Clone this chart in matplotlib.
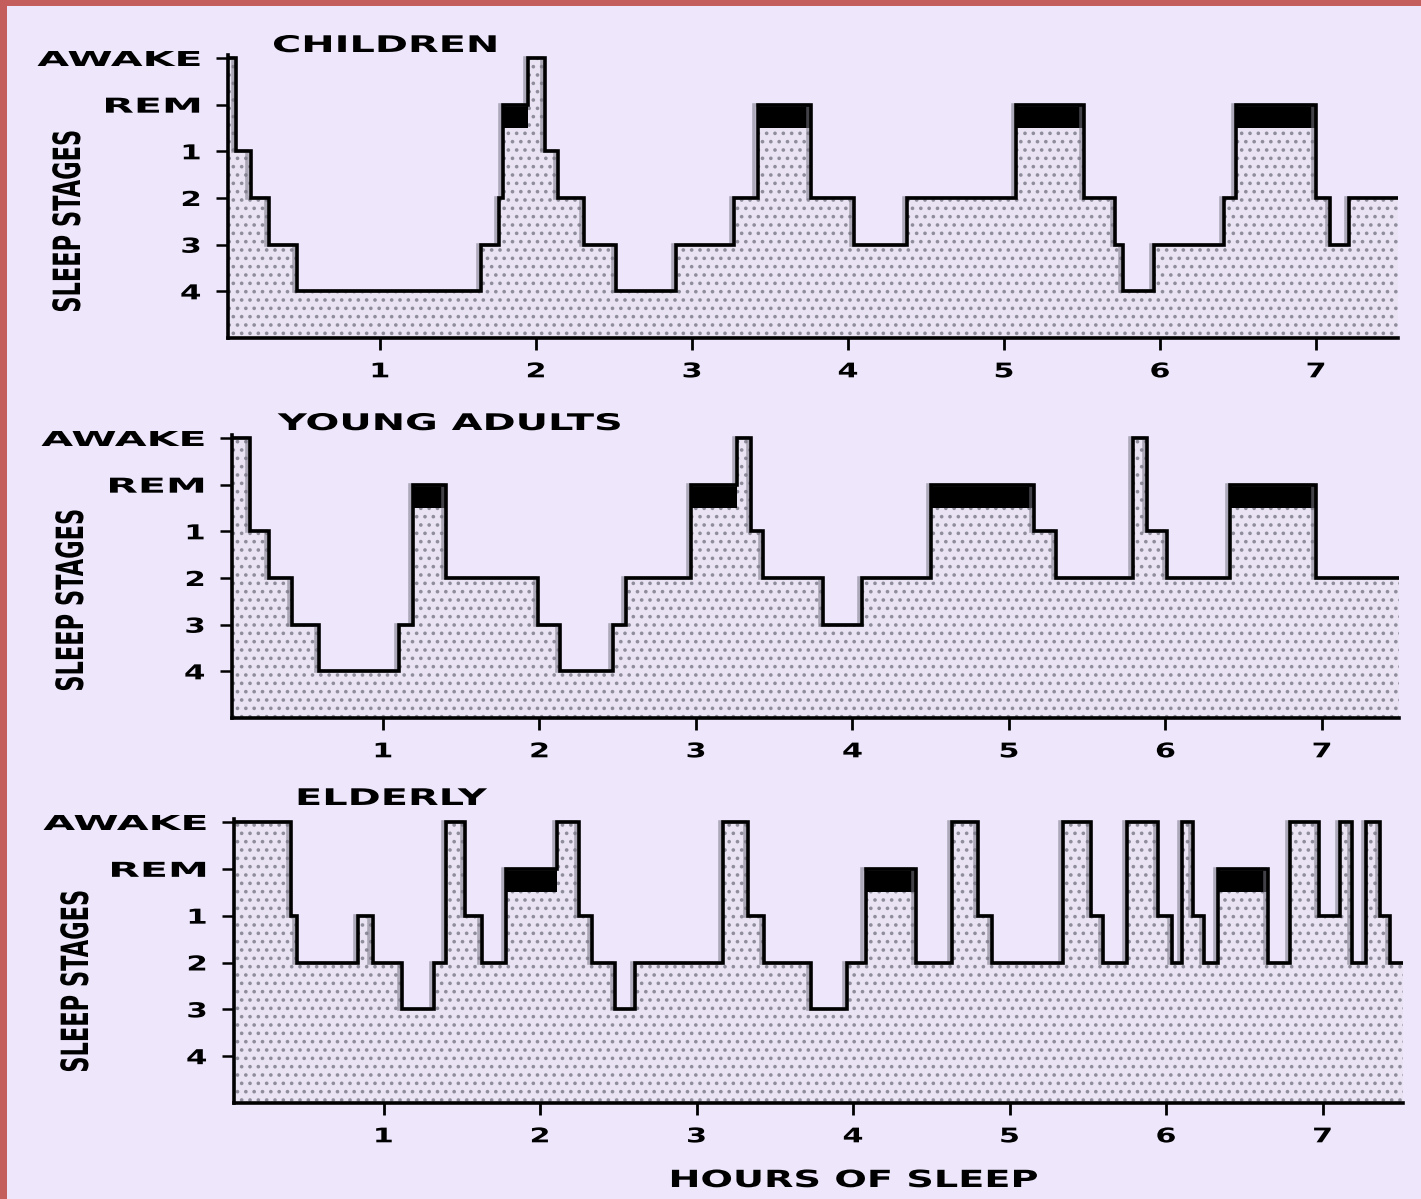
import numpy as np
import matplotlib
matplotlib.use("Agg")
import matplotlib.pyplot as plt
import matplotlib.patheffects as pe
from matplotlib.transforms import Affine2D
from matplotlib.path import Path
from matplotlib.patches import Rectangle

# ---------------- data ----------------
stage_labels = ["AWAKE", "REM", "1", "2", "3", "4"]
hour_ticks = [1, 2, 3, 4, 5, 6, 7]
panel_titles = ["CHILDREN", "YOUNG ADULTS", "ELDERLY"]
y_title = "SLEEP STAGES"
x_title = "HOURS OF SLEEP"

# boundaries (hours) and the stage held between consecutive boundaries
children_times = [0.0, 0.08, 0.17, 0.29, 0.47, 1.65, 1.76, 1.79, 1.95, 2.06, 2.14,
                  2.31, 2.51, 2.90, 3.27, 3.42, 3.76, 4.04, 4.38, 5.08, 5.51, 5.71,
                  5.76, 5.96, 6.41, 6.49, 7.00, 7.09, 7.21, 7.60]
children_stages = ["AWAKE", "1", "2", "3", "4", "3", "2", "REM", "AWAKE", "1", "2",
                   "3", "4", "3", "2", "REM", "2", "3", "2", "REM", "2", "3", "4",
                   "3", "2", "REM", "2", "3", "2"]

young_times = [0.0, 0.15, 0.27, 0.42, 0.59, 1.10, 1.19, 1.40, 1.99, 2.13, 2.47, 2.55,
               2.97, 3.26, 3.35, 3.43, 3.81, 4.06, 4.50, 5.16, 5.30, 5.79, 5.88, 6.01,
               6.41, 6.96, 7.60]
young_stages = ["AWAKE", "1", "2", "3", "4", "3", "REM", "2", "3", "4", "3", "2",
                "REM", "AWAKE", "1", "2", "3", "2", "REM", "1", "2", "AWAKE", "1", "2",
                "REM", "2"]

elderly_times = [0.0, 0.41, 0.45, 0.84, 0.93, 1.12, 1.32, 1.40, 1.52, 1.63, 1.78, 2.11,
                 2.25, 2.33, 2.48, 2.61, 3.17, 3.33, 3.43, 3.73, 3.96, 4.08, 4.40, 4.63,
                 4.80, 4.89, 5.34, 5.52, 5.60, 5.75, 5.95, 6.04, 6.10, 6.17, 6.24, 6.33,
                 6.65, 6.79, 6.98, 7.11, 7.19, 7.28, 7.37, 7.43, 7.60]
elderly_stages = ["AWAKE", "1", "2", "1", "2", "3", "2", "AWAKE", "1", "2", "REM",
                  "AWAKE", "1", "2", "3", "2", "AWAKE", "1", "2", "3", "2", "REM", "2",
                  "AWAKE", "1", "2", "AWAKE", "1", "2", "AWAKE", "1", "2", "AWAKE", "1",
                  "2", "REM", "2", "AWAKE", "1", "AWAKE", "2", "AWAKE", "1", "2"]

panel_times = [children_times, young_times, elderly_times]
panel_stages = [children_stages, young_stages, elderly_stages]

# ---------------- styling / layout ----------------
W, H = 1421, 1199
BG = "#EEE7FC"
BORDER = "#C45E5C"
FILL = "#E9E3F3"
HATCH = "#8F8C9C"

plt.rcParams["font.family"] = ["DejaVu Sans"]
plt.rcParams["hatch.linewidth"] = 1.4

fig = plt.figure(figsize=(W / 100, H / 100), dpi=100, facecolor=BG)

# pixel layout of each panel: left, right, awake-level y, bottom y, x of hour 0, px per hour
layout = [
    (228, 1398, 58, 338, 224.0, 156.0),
    (232, 1399, 438, 718, 226.5, 156.5),
    (234, 1403, 822, 1103, 227.0, 156.5),
]
title_pos = [(272, 52), (278, 430), (295, 805)]
ylab_pos = [(70, 221), (73, 600), (78, 981)]


class StretchX(pe.AbstractPathEffect):
    """Stretch glyph outlines horizontally (along the text direction)."""

    def __init__(self, sx, anchor="center"):
        super().__init__()
        self.sx = sx
        self.anchor = anchor

    def draw_path(self, renderer, gc, tpath, affine, rgbFace=None):
        v = tpath.vertices
        codes = tpath.codes
        if codes is not None:
            v = v[codes != Path.CLOSEPOLY]
        if len(v):
            xmin, xmax = v[:, 0].min(), v[:, 0].max()
        else:
            xmin = xmax = 0.0
        cx = {"left": 0.0, "center": 0.5 * (xmin + xmax), "right": xmax}[self.anchor]
        t = Affine2D().translate(-cx, 0).scale(self.sx, 1.0).translate(cx, 0) + affine
        renderer.draw_path(gc, tpath, t, rgbFace)


def fx(px):
    return px / W


def fy(py):
    return 1 - py / H


level = {s: i for i, s in enumerate(stage_labels)}

for k in range(3):
    left, right, awake, bottom, x0, s = layout[k]
    unit = (bottom - awake) / 6.0
    top = awake - 0.07 * unit
    ax = fig.add_axes([fx(left), fy(bottom), (right - left) / W, (bottom - top) / H])
    ax.set_facecolor("none")

    t = np.array(panel_times[k], dtype=float)
    yv = [level[st] for st in panel_stages[k]]
    yy = np.array(yv + [yv[-1]], dtype=float)

    ax.fill_between(t, yy, 6, step="post", facecolor=FILL, edgecolor=HATCH,
                    linewidth=0, hatch="..", zorder=1)
    for i, st in enumerate(panel_stages[k]):
        if st == "REM":
            ax.fill_between([t[i], t[i + 1]], 1.0, 1.5, color="black",
                            linewidth=0, zorder=2)
    ax.step(t, yy, where="post", color="black", lw=2.6, zorder=3,
            solid_joinstyle="miter",
            path_effects=[pe.SimpleLineShadow(offset=(-2.2, 0), shadow_color="#7a7784",
                                              alpha=0.55), pe.Normal()])

    ax.set_xlim((left - x0) / s, (right - x0) / s)
    ax.set_ylim(6, -0.07)

    for side in ("top", "right"):
        ax.spines[side].set_visible(False)
    for side in ("left", "bottom"):
        ax.spines[side].set_linewidth(2.6)
        ax.spines[side].set_color("black")
        ax.spines[side].set_zorder(4)

    ax.set_yticks(range(len(stage_labels)))
    ax.set_yticklabels(stage_labels)
    ax.set_xticks(hour_ticks)
    ax.set_xticklabels([str(h) for h in hour_ticks])
    ax.tick_params(axis="y", direction="out", length=8.5, width=1.8, pad=11,
                   labelsize=14.8, colors="black")
    ax.tick_params(axis="x", direction="out", length=8.5, width=2.0, pad=9,
                   labelsize=14.5, colors="black")
    for lab in ax.get_yticklabels():
        lab.set_fontweight("bold")
        sx = 2.0 if lab.get_text().isalpha() else 1.5
        lab.set_path_effects([StretchX(sx, "right")])
    for lab in ax.get_xticklabels():
        lab.set_fontweight("bold")
        lab.set_path_effects([StretchX(1.5, "center")])

    # panel title
    tx, ty = title_pos[k]
    fig.text(fx(tx), fy(ty), panel_titles[k], ha="left", va="baseline",
             fontsize=16.5, fontweight="bold", color="black",
             path_effects=[StretchX(1.74, "left")])
    # y label
    lx, ly = ylab_pos[k]
    fig.text(fx(lx), fy(ly), y_title, rotation=90, ha="center", va="center",
             fontsize=27, fontweight="bold", color="black",
             path_effects=[StretchX(0.6, "center")])

fig.text(fx(854), fy(1187), x_title, ha="center", va="baseline",
         fontsize=17, fontweight="bold", color="black",
         path_effects=[StretchX(1.62, "center")])

# reddish frame on the top and left edges
fig.patches.append(Rectangle((0, 1 - 6 / H), 1, 6 / H, transform=fig.transFigure,
                             facecolor=BORDER, edgecolor="none", zorder=10))
fig.patches.append(Rectangle((0, 0), 7 / W, 1, transform=fig.transFigure,
                             facecolor=BORDER, edgecolor="none", zorder=10))

fig.savefig("out.png", dpi=100, facecolor=BG)
